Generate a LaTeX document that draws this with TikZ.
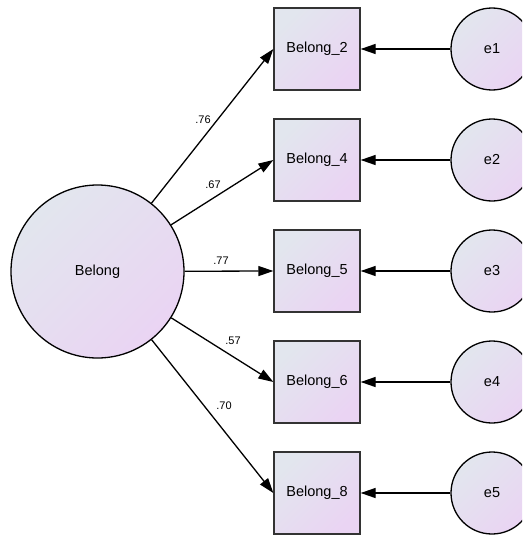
\documentclass[tikz,border=0pt]{standalone}
\usepackage{fontspec}
\setmainfont{Liberation Sans}
\usetikzlibrary{arrows.meta}
\definecolor{fillA}{HTML}{E2E6EE}
\definecolor{fillB}{HTML}{EAD4F3}
\begin{document}
\begin{tikzpicture}[x=1pt,y=-1pt,
  shadedfill/.style={top color=fillA, bottom color=fillB, shading angle=45},
  observed/.style={draw=black!80, line width=1.3pt, shadedfill, minimum width=86pt,
    minimum height=82pt, inner sep=0pt, font=\fontsize{14.5}{16}\selectfont},
  latent/.style={circle, draw=black, line width=1.3pt, shadedfill, inner sep=0pt,
    font=\fontsize{14.5}{16}\selectfont},
  errorterm/.style={latent, minimum size=82pt},
  path/.style={line width=1.3pt, -{Triangle[length=15pt,width=10pt]}},
  coef/.style={font=\fontsize{11}{12}\selectfont}]
\clip (0,0) rectangle (522,535);
% latent factor
\node[latent, minimum size=173pt] (F) at (97.5,271.5) {Belong};
% indicators and their error terms
\foreach \n/\lab/\e/\y in {2/Belong\_2/e1/49, 4/Belong\_4/e2/160, 5/Belong\_5/e3/271,
                         6/Belong\_6/e4/382, 8/Belong\_8/e5/493}{
  \node[observed] (b\n) at (317,\y) {\lab};
  \node[errorterm] (\e) at (492,\y) {\e};
  \draw[path] (\e) -- (b\n);
}
% factor loadings
\draw[path] (F) -- (b2.west);
\draw[path] (F) -- (b4.west);
\draw[path] (F) -- (b5.west);
\draw[path] (F) -- (b6.west);
\draw[path] (F) -- (b8.west);
\node[coef] (l2) at (203,120) {.76};
\node[coef] (l4) at (213,185) {.67};
\node[coef] (l5) at (221,261) {.77};
\node[coef] (l6) at (233,341) {.57};
\node[coef] (l8) at (224,406) {.70};
\end{tikzpicture}
\end{document}
